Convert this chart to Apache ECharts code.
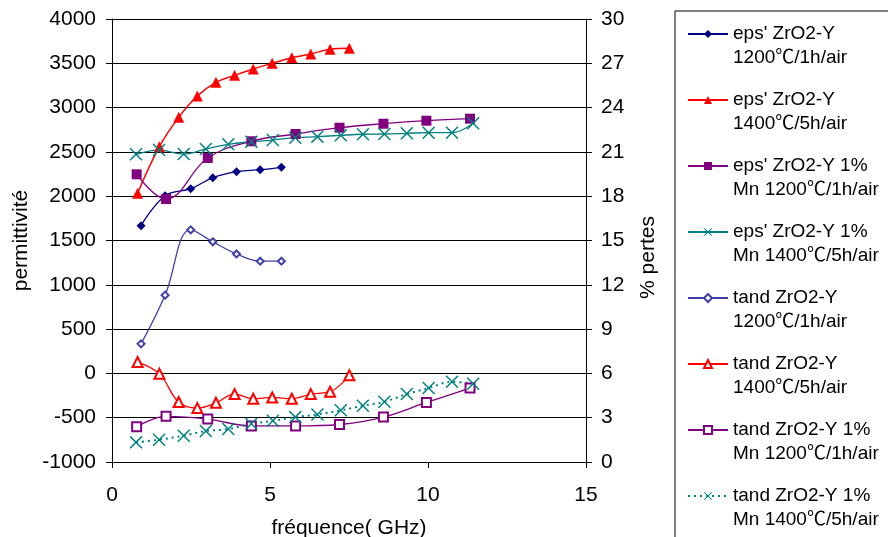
<!DOCTYPE html>
<html><head><meta charset="utf-8">
<script src="https://cdn.jsdelivr.net/npm/echarts@6/dist/echarts.min.js"></script>
<style>html,body{margin:0;padding:0;background:#fff}#c{width:888px;height:537px}</style>
</head><body><div id="c"></div>
<script>
// frequencies (GHz)
const freqA = [0.92, 1.68, 2.49, 3.19, 3.94, 4.69, 5.36];
const freqB = [0.81, 1.50, 2.11, 2.70, 3.29, 3.88, 4.47, 5.07, 5.69, 6.29, 6.90, 7.51];
const freqC = [0.78, 1.71, 3.03, 4.41, 5.81, 7.20, 8.59, 9.95, 11.33];
const freqD = [0.76, 1.49, 2.27, 2.97, 3.68, 4.41, 5.09, 5.80, 6.50, 7.24, 7.94, 8.62, 9.33, 10.02, 10.76, 11.43];
// permittivity (left axis)
const epsA = [1667, 2006, 2085, 2209, 2277, 2299, 2326];
const epsB = [2033, 2559, 2890, 3131, 3285, 3364, 3436, 3500, 3563, 3605, 3658, 3669];
const epsC = [2247, 1968, 2431, 2620, 2702, 2773, 2818, 2852, 2875];
const epsD = [2473, 2521, 2476, 2533, 2586, 2615, 2634, 2660, 2672, 2687, 2699, 2702, 2710, 2717, 2717, 2823];
// % pertes (right axis)
const tanA = [8.00, 11.30, 15.72, 14.91, 14.09, 13.60, 13.60];
const tanB = [6.77, 5.97, 4.06, 3.65, 4.01, 4.60, 4.28, 4.37, 4.28, 4.60, 4.76, 5.87];
const tanC = [2.39, 3.09, 2.91, 2.44, 2.44, 2.54, 3.04, 4.03, 5.01];
const tanD = [1.33, 1.51, 1.78, 2.10, 2.23, 2.59, 2.79, 3.04, 3.22, 3.50, 3.81, 4.08, 4.60, 5.01, 5.43, 5.30];
// names
const names = [
  "eps' ZrO2-Y\n1200℃/1h/air",
  "eps' ZrO2-Y\n1400℃/5h/air",
  "eps' ZrO2-Y 1%\nMn 1200℃/1h/air",
  "eps' ZrO2-Y 1%\nMn 1400℃/5h/air",
  "tand ZrO2-Y\n1200℃/1h/air",
  "tand ZrO2-Y\n1400℃/5h/air",
  "tand ZrO2-Y 1%\nMn 1200℃/1h/air",
  "tand ZrO2-Y 1%\nMn 1400℃/5h/air"
];
const xName = 'fréquence( GHz)';
const yLeftName = 'permittivité';
const yRightName = '% pertes';

const FONT = "'Liberation Sans', Arial, 'Noto Sans CJK SC', sans-serif";
const XSYM = 'path://M0,1.6L1.6,0L20,18.4L18.4,20Z M18.4,0L20,1.6L1.6,20L0,18.4Z';
const zip = (xs, ys) => xs.map((x, i) => [x, ys[i]]);

function mk(name, xs, ys, axis, symbol, size, color, lw, ltype, empty) {
  return {
    name: name, type: 'line', yAxisIndex: axis, data: zip(xs, ys),
    smooth: 0.4, symbol: symbol, symbolSize: size, showSymbol: true,
    lineStyle: {color: color, width: lw, type: ltype || 'solid'},
    itemStyle: empty ? {color: color, borderColor: color, borderWidth: 1.2} : {color: color, borderColor: color, borderWidth: 0},
    emphasis: {disabled: true}
  };
}

const chart = echarts.init(document.getElementById('c'), null, {renderer: 'canvas'});
chart.setOption({
  animation: false,
  backgroundColor: '#fff',
  textStyle: {fontFamily: FONT},
  grid: {left: 112, right: 302, top: 19, bottom: 75, containLabel: false, outerBoundsMode: 'none'},
  graphic: [{type: 'rect', shape: {x: 675, y: 11, width: 300, height: 600}, style: {fill: 'none', stroke: '#000', lineWidth: 1}, z: -1}],
  legend: {
    orient: 'vertical', left: 687, top: -2, padding: 0, itemGap: -6,
    itemWidth: 40, itemHeight: 10,
    data: names,
    formatter: function (n) { return '\n' + n; },
    textStyle: {fontFamily: FONT, fontSize: 19, color: '#000', lineHeight: 24}
  },
  xAxis: {
    type: 'value', min: 0, max: 15, interval: 5,
    name: xName, nameLocation: 'middle', nameGap: 56,
    nameTextStyle: {fontFamily: FONT, fontSize: 21, color: '#000'},
    axisLine: {onZero: false, lineStyle: {color: '#000', width: 1}},
    axisTick: {show: true, length: 6, lineStyle: {color: '#000'}},
    axisLabel: {fontFamily: FONT, fontSize: 21, color: '#000', margin: 23},
    splitLine: {show: false}
  },
  yAxis: [{
    type: 'value', min: -1000, max: 4000, interval: 500, position: 'left',
    name: yLeftName, nameLocation: 'middle', nameGap: 77,
    nameTextStyle: {fontFamily: FONT, fontSize: 21, color: '#000'},
    axisLine: {show: true, lineStyle: {color: '#000', width: 1}},
    axisTick: {show: true, length: 6, lineStyle: {color: '#000'}},
    axisLabel: {fontFamily: FONT, fontSize: 21, color: '#000', margin: 16, formatter: function (v) { return String(v); }},
    splitLine: {show: true, lineStyle: {color: '#000', width: 1}}
  }, {
    type: 'value', min: 0, max: 30, interval: 3, position: 'right',
    name: yRightName, nameLocation: 'middle', nameGap: 52,
    nameTextStyle: {fontFamily: FONT, fontSize: 21, color: '#000', padding: [0, 34, 0, 0]},
    axisLine: {show: true, lineStyle: {color: '#000', width: 1}},
    axisTick: {show: true, length: 6, lineStyle: {color: '#000'}},
    axisLabel: {fontFamily: FONT, fontSize: 21, color: '#000', margin: 15},
    splitLine: {show: false}
  }],
  series: [
    mk(names[0], freqA, epsA, 0, 'diamond', 9, '#000080', 1.3),
    mk(names[1], freqB, epsB, 0, 'triangle', 11, '#ff0000', 1.5),
    mk(names[2], freqC, epsC, 0, 'rect', 10, '#800080', 1.3),
    mk(names[3], freqD, epsD, 0, XSYM, 13, '#008080', 1.3),
    mk(names[4], freqA, tanA, 1, 'emptyDiamond', 7, '#4040a8', 1.3, 'solid', true),
    mk(names[5], freqB, tanB, 1, 'emptyTriangle', 10, '#ff0000', 1.3, 'solid', true),
    mk(names[6], freqC, tanC, 1, 'emptyRect', 9, '#800080', 1.3, 'solid', true),
    mk(names[7], freqD, tanD, 1, XSYM, 13, '#008080', 2, [2, 4])
  ]
});
</script>
</body></html>
